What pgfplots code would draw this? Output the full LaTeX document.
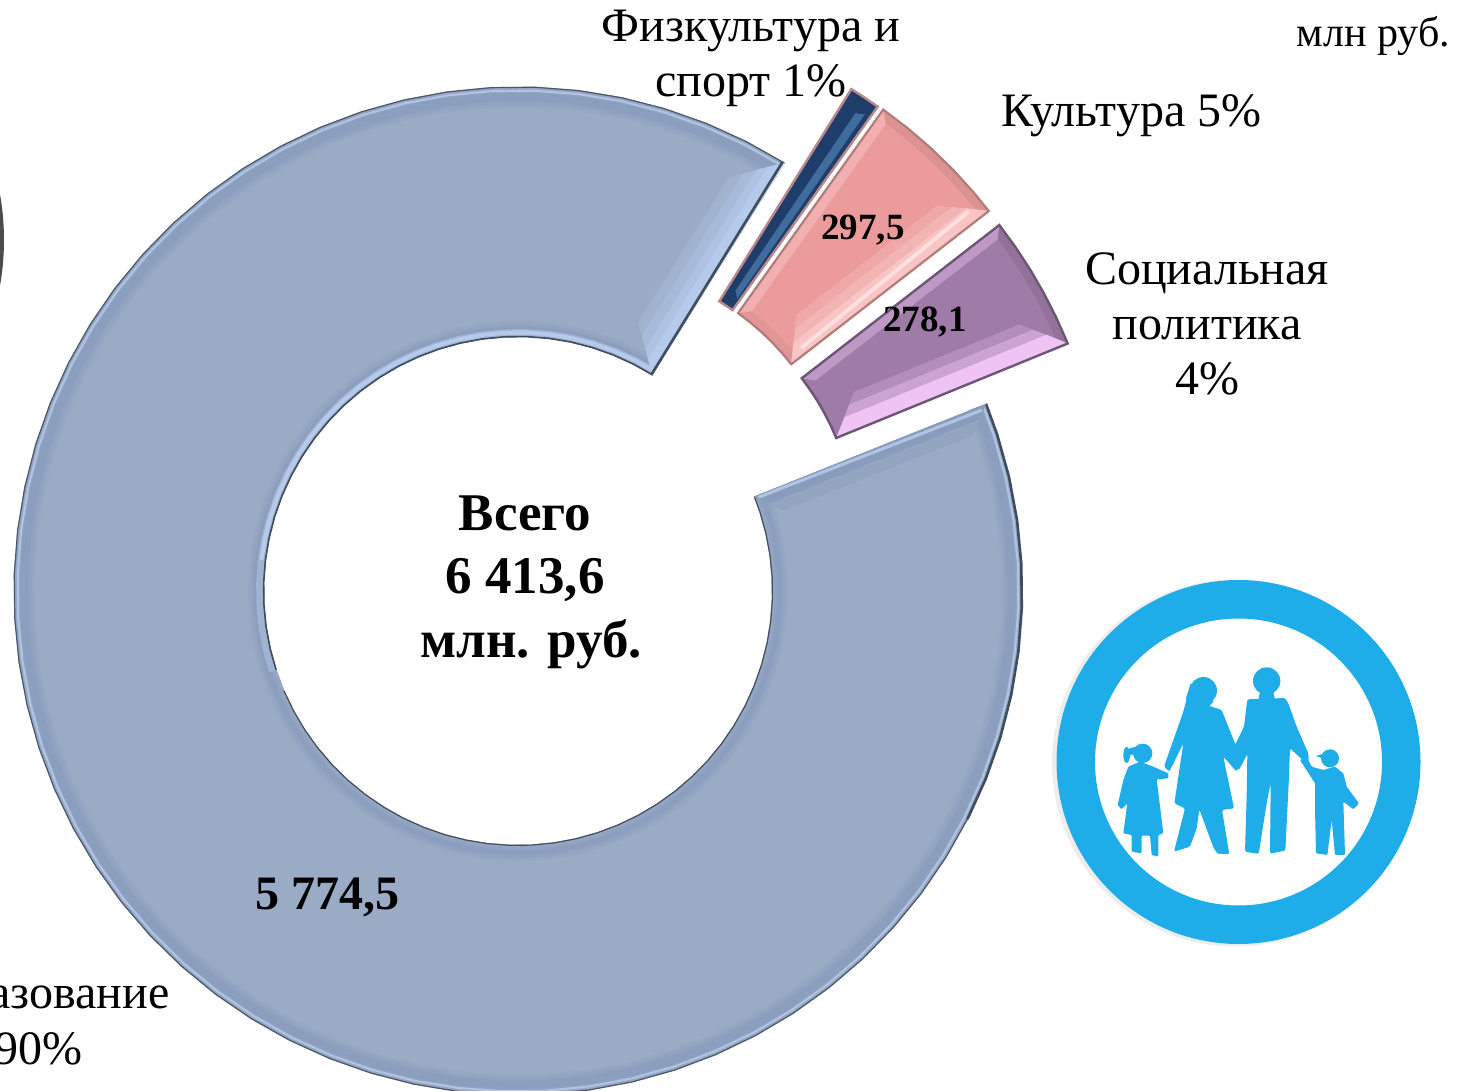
\documentclass[border=0pt]{standalone}
\usepackage{fontspec}
\setmainfont{Liberation Serif}
\usepackage{pgfplots}
\usepackage{pgfplotstable}
\pgfplotsset{compat=1.18}
\definecolor{mainbase}{HTML}{9AABC6}
\definecolor{mainband}{HTML}{8A9CBB}
\definecolor{mainlight}{HTML}{B6CAEB}
\definecolor{maindark}{HTML}{3F4E5E}
\definecolor{cult}{HTML}{EB9B9B}
\definecolor{cultedge}{HTML}{B07C7C}
\definecolor{cultlight}{HTML}{F8C4C4}
\definecolor{cultwhite}{HTML}{FFE0E0}
\definecolor{socl}{HTML}{9F7CA8}
\definecolor{socledge}{HTML}{6C5674}
\definecolor{sociallight}{HTML}{EFC4F4}
\definecolor{navy}{HTML}{1E3D68}
\definecolor{navylight}{HTML}{3F6B9D}
\definecolor{navyedge}{HTML}{B8898C}
\definecolor{iconblue}{HTML}{1FADE9}
\pgfplotsset{M/.style={data cs=polar,xshift=-1pt},
  C/.style={data cs=polar,xshift=71.5pt,yshift=71pt},
  S/.style={data cs=polar,xshift=82pt,yshift=57pt},
  F/.style={data cs=polar,xshift=66pt,yshift=74pt}}
\pgfplotstableread{
a o3 o1 o2 i1 i2 i3
58.1 504 500.5 494 262 258.5 254.5
63.1 504 500.5 494 262 258.5 254.5
68.1 504 500.5 494 262 258.5 254.5
73.1 504 500.5 494 262 258.5 254.5
78.1 504 500.5 494 262 258.5 254.5
83.1 504 500.5 494 262 258.5 254.5
88.1 504 500.5 494 262 258.5 254.5
93.1 504 500.5 494 262 258.5 254.5
98.1 504 500.5 494 262 258.5 254.5
103.1 504 500.5 494 262 258.5 254.5
108.1 504 500.5 494 262 258.5 254.5
113.1 504 500.5 494 262 258.5 254.5
118.1 504 500.5 494 262 258.5 254.5
123.1 504 500.5 494 262 258.5 254.5
128.1 504 500.5 494 262 258.5 254.5
133.1 504 500.5 494 262 258.5 254.5
138.1 504 500.5 494 262 258.5 254.5
143.1 504 500.5 494 262 258.5 254.5
148.1 504 500.5 494 262 258.5 254.5
153.1 504 500.5 494 262 258.5 254.5
158.1 504 500.5 494 262 258.5 254.5
163.1 504 500.5 494 262 258.5 254.5
168.1 504 500.5 494 262 258.5 254.5
173.1 504 500.5 494 262 258.5 254.5
178.1 504 500.5 494 262 258.5 254.5
183.1 504 500.5 494 262 258.5 254.5
188.1 504 500.5 494 262 258.5 254.5
193.1 504 500.5 494 262 258.5 254.5
198.1 504 500.5 494 262 258.5 254.5
203.1 504 500.5 494 262 258.5 254.5
208.1 504 500.5 494 262 258.5 254.5
213.1 504 500.5 494 262 258.5 254.5
218.1 504 500.5 494 262 258.5 254.5
223.1 504 500.5 494 262 258.5 254.5
228.1 504 500.5 494 262 258.5 254.5
233.1 504 500.5 494 262 258.5 254.5
238.1 504 500.5 494 262 258.5 254.5
243.1 504 500.5 494 262 258.5 254.5
248.1 504 500.5 494 262 258.5 254.5
253.1 504 500.5 494 262 258.5 254.5
258.1 504 500.5 494 262 258.5 254.5
263.1 504 500.5 494 262 258.5 254.5
268.1 504 500.5 494 262 258.5 254.5
273.1 504 500.5 494 262 258.5 254.5
278.1 504 500.5 494 262 258.5 254.5
283.1 504 500.5 494 262 258.5 254.5
288.1 504 500.5 494 262 258.5 254.5
293.1 504 500.5 494 262 258.5 254.5
298.1 504 500.5 494 262 258.5 254.5
303.1 504 500.5 494 262 258.5 254.5
308.1 504 500.5 494 262 258.5 254.5
313.1 504 500.5 494 262 258.5 254.5
318.1 504 500.5 494 262 258.5 254.5
323.1 504 500.5 494 262 258.5 254.5
328.1 504 500.5 494 262 258.5 254.5
333.1 504 500.5 494 262 258.5 254.5
338.1 504 500.5 494 262 258.5 254.5
343.1 504 500.5 494 262 258.5 254.5
348.1 504 500.5 494 262 258.5 254.5
353.1 504 500.5 494 262 258.5 254.5
358.1 504 500.5 494 262 258.5 254.5
363.1 504 500.5 494 262 258.5 254.5
368.1 504 500.5 494 262 258.5 254.5
373.1 504 500.5 494 262 258.5 254.5
378.1 504 500.5 494 262 258.5 254.5
381.8 504 500.5 494 262 258.5 254.5
}\arcs
\begin{document}
\begin{tikzpicture}
\path[use as bounding box,clip] (0,0) rectangle (1463pt,1090pt);
% grey disc cut by the left edge
\fill[color=black!70] (-256pt,850pt) circle (260pt);
\begin{axis}[at={(0,0)},anchor=south west,scale only axis,width=1463pt,height=1090pt,
  xmin=-519,xmax=944,ymin=-499,ymax=591,hide axis,clip=true,no markers]
% main sector, 90 %
\addplot[M,fill=mainbase,draw=none] coordinates {
(58.1,504.5)(63.1,504.5)(68.1,504.5)(73.1,504.5)(78.1,504.5)(83.1,504.5)(88.1,504.5)(93.1,504.5)(98.1,504.5)(103.1,504.5)(108.1,504.5)(113.1,504.5)(118.1,504.5)(123.1,504.5)(128.1,504.5)(133.1,504.5)(138.1,504.5)(143.1,504.5)(148.1,504.5)(153.1,504.5)(158.1,504.5)(163.1,504.5)(168.1,504.5)(173.1,504.5)(178.1,504.5)(183.1,504.5)(188.1,504.5)(193.1,504.5)(198.1,504.5)(203.1,504.5)(208.1,504.5)(213.1,504.5)(218.1,504.5)(223.1,504.5)(228.1,504.5)(233.1,504.5)(238.1,504.5)(243.1,504.5)(248.1,504.5)(253.1,504.5)(258.1,504.5)(263.1,504.5)(268.1,504.5)(273.1,504.5)(278.1,504.5)(283.1,504.5)(288.1,504.5)(293.1,504.5)(298.1,504.5)(303.1,504.5)(308.1,504.5)(313.1,504.5)(318.1,504.5)(323.1,504.5)(328.1,504.5)(333.1,504.5)(338.1,504.5)(343.1,504.5)(348.1,504.5)(353.1,504.5)(358.1,504.5)(363.1,504.5)(368.1,504.5)(373.1,504.5)(378.1,504.5)(381.8,504.5)
(381.8,254)(378.1,254)(373.1,254)(368.1,254)(363.1,254)(358.1,254)(353.1,254)(348.1,254)(343.1,254)(338.1,254)(333.1,254)(328.1,254)(323.1,254)(318.1,254)(313.1,254)(308.1,254)(303.1,254)(298.1,254)(293.1,254)(288.1,254)(283.1,254)(278.1,254)(273.1,254)(268.1,254)(263.1,254)(258.1,254)(253.1,254)(248.1,254)(243.1,254)(238.1,254)(233.1,254)(228.1,254)(223.1,254)(218.1,254)(213.1,254)(208.1,254)(203.1,254)(198.1,254)(193.1,254)(188.1,254)(183.1,254)(178.1,254)(173.1,254)(168.1,254)(163.1,254)(158.1,254)(153.1,254)(148.1,254)(143.1,254)(138.1,254)(133.1,254)(128.1,254)(123.1,254)(118.1,254)(113.1,254)(108.1,254)(103.1,254)(98.1,254)(93.1,254)(88.1,254)(83.1,254)(78.1,254)(73.1,254)(68.1,254)(63.1,254)(58.1,254)
} -- cycle;
% soft bands along the arcs
\addplot[M,draw=mainband!25!mainbase,line width=20pt] table[x=a,y=o2] {\arcs};
\addplot[M,draw=mainband!55!mainbase,line width=14pt] table[x=a,y=o2] {\arcs};
\addplot[M,draw=mainband!85!mainbase,line width=8pt] table[x=a,y=o2] {\arcs};
\addplot[M,draw=mainband!25!mainbase,line width=16pt] table[x=a,y=i1] {\arcs};
\addplot[M,draw=mainband!55!mainbase,line width=10pt] table[x=a,y=i1] {\arcs};
\addplot[M,draw=mainband!85!mainbase,line width=5pt] table[x=a,y=i1] {\arcs};
\addplot[M,draw=mainlight!80!mainbase,line width=2pt] table[x=a,y=o1] {\arcs};
\addplot[M,draw=black!45!mainband,line width=1.2pt] table[x=a,y=o3] {\arcs};
\addplot[M,draw=maindark,line width=2.6pt,skip coords between index={0}{55}] table[x=a,y=o3] {\arcs};
\addplot[M,draw=mainlight!50!mainband,line width=7pt,skip coords between index={29}{66}] table[x=a,y=i2] {\arcs};
\addplot[M,draw=mainlight,line width=4pt,skip coords between index={24}{66}] table[x=a,y=i2] {\arcs};
\addplot[M,draw=maindark,line width=1.6pt,skip coords between index={29}{66}] table[x=a,y=i3] {\arcs};
\addplot[M,draw=black!50!mainband,line width=1.2pt,skip coords between index={0}{29}] table[x=a,y=i3] {\arcs};
% bevel of the upper end
\addplot[M,fill=mainlight!25!mainbase,draw=none] coordinates {(58.1,254)(58.1,504)(63.0,464)(65.9,294)} -- cycle;
\addplot[M,fill=mainlight!50!mainbase,draw=none] coordinates {(58.1,254)(58.1,504)(61.7,474)(64.15,284)} -- cycle;
\addplot[M,fill=mainlight!75!mainbase,draw=none] coordinates {(58.1,254)(58.1,504)(60.5,484)(62.3,274)} -- cycle;
\addplot[M,fill=mainlight,draw=none] coordinates {(58.1,254)(58.1,504)(59.5,492)(60.7,266)} -- cycle;
\addplot[M,draw=maindark,line width=2.6pt] coordinates {(58.35,254)(58.35,504)};
% bevel of the lower end
\addplot[M,fill=mainband!40!mainbase,draw=none] coordinates {(381.8,254)(381.8,504)(378.9,480)(376.85,278)} -- cycle;
\addplot[M,fill=mainband,draw=none] coordinates {(381.8,254)(381.8,504)(380.4,492)(379.2,266)} -- cycle;
\addplot[M,draw=mainlight!85!mainband,line width=3pt] coordinates {(381.3,258)(381.3,498)};
% culture, 297,5
\addplot[C,fill=cult,draw=none] coordinates {(54.5,254)(54.5,504)(51,504)(47.5,504)(44,504)(40.5,504)(37.8,504)(37.8,254)(40.5,254)(44,254)(47.5,254)(51,254)} -- cycle;
\addplot[C,draw=black!6!cult,line width=9pt] coordinates {(54.5,499)(51,499)(47.5,499)(44,499)(40.5,499)(37.8,499)};
\addplot[C,draw=black!4!cult,line width=9pt] coordinates {(54.5,259)(51,259)(47.5,259)(44,259)(40.5,259)(37.8,259)};
\addplot[C,fill=cultlight!30!cult,draw=none] coordinates {(37.8,254)(37.8,504)(42.2,468)(44.9,290)} -- cycle;
\addplot[C,fill=cultlight!60!cult,draw=none] coordinates {(37.8,254)(37.8,504)(40.9,478)(43.1,280)} -- cycle;
\addplot[C,fill=cultlight,draw=none] coordinates {(37.8,254)(37.8,504)(39.7,488)(41.2,270)} -- cycle;
\addplot[C,draw=cultwhite,line width=4pt] coordinates {(39.2,272)(39.2,488)};
\addplot[C,fill=cultlight!50!cult,draw=none] coordinates {(54.5,254)(54.5,504)(53.3,494)(52.3,264)} -- cycle;
\addplot[C,draw=cultedge,line width=2.2pt] coordinates {(54.5,254)(54.5,504)(51,504)(47.5,504)(44,504)(40.5,504)(37.8,504)(37.8,254)(40.5,254)(44,254)(47.5,254)(51,254)} -- cycle;
% social policy, 278,1
\addplot[S,fill=socl,draw=none] coordinates {(37.8,254)(37.8,504)(34.7,504)(31.6,504)(28.5,504)(25.4,504)(22.2,504)(22.2,254)(25.4,254)(28.5,254)(31.6,254)(34.7,254)} -- cycle;
\addplot[S,draw=black!8!socl,line width=9pt] coordinates {(37.8,499)(34.7,499)(31.6,499)(28.5,499)(25.4,499)(22.2,499)};
\addplot[S,fill=sociallight!25!socl,draw=none] coordinates {(22.2,254)(22.2,504)(26.6,468)(29.3,290)} -- cycle;
\addplot[S,fill=sociallight!55!socl,draw=none] coordinates {(22.2,254)(22.2,504)(25.3,478)(27.5,280)} -- cycle;
\addplot[S,fill=sociallight,draw=none] coordinates {(22.2,254)(22.2,504)(24.1,488)(25.6,270)} -- cycle;
\addplot[S,fill=sociallight!40!socl,draw=none] coordinates {(37.8,254)(37.8,504)(36.6,494)(35.6,264)} -- cycle;
\addplot[S,draw=socledge,line width=2.4pt] coordinates {(37.8,254)(37.8,504)(34.7,504)(31.6,504)(28.5,504)(25.4,504)(22.2,504)(22.2,254)(25.4,254)(28.5,254)(31.6,254)(34.7,254)} -- cycle;
% physical culture and sport, 63,5
\addplot[F,fill=navy,draw=none] coordinates {(58.1,254)(58.1,504)(56.3,504)(54.5,504)(54.5,254)(56.3,254)} -- cycle;
\addplot[F,fill=navylight,draw=none] coordinates {(56.4,272)(56.2,486)(55.2,490)(55.1,266)} -- cycle;
\addplot[F,draw=navyedge,line width=2.4pt] coordinates {(58.1,254)(58.1,504)(56.3,504)(54.5,504)(54.5,254)(56.3,254)} -- cycle;
% labels
\node[anchor=base,font=\fontsize{48}{55}\selectfont] at (axis cs:232,549) {Физкультура и};
\node[anchor=base,font=\fontsize{48}{55}\selectfont] at (axis cs:232,494) {спорт 1\%};
\node[anchor=base,font=\fontsize{48}{55}\selectfont] at (axis cs:612.5,464) {Культура 5\%};
\node[anchor=base,font=\fontsize{48}{55}\selectfont] at (axis cs:688,306) {Социальная};
\node[anchor=base,font=\fontsize{48}{55}\selectfont] at (axis cs:688,251) {политика};
\node[anchor=base,font=\fontsize{48}{55}\selectfont] at (axis cs:688,196) {4\%};
\node[anchor=base,font=\fontsize{42}{48}\selectfont] at (axis cs:854.5,544) {млн руб.};
\node[anchor=base,font=\fontsize{48}{55}\selectfont] at (axis cs:-481,-418) {Образование};
\node[anchor=base,font=\fontsize{48}{55}\selectfont] at (axis cs:-481,-473) {90\%};
\node[anchor=base,font=\fontsize{53}{64}\bfseries\selectfont] at (axis cs:6,60) {Всего};
\node[anchor=base,font=\fontsize{53}{64}\bfseries\selectfont] at (axis cs:6,-3) {6 413,6};
\node[anchor=base,font=\fontsize{53}{64}\bfseries\selectfont] at (axis cs:12,-67) {млн. руб.};
\node[anchor=base,font=\fontsize{48}{56}\bfseries\selectfont] at (axis cs:-192,-319) {5 774,5};
\node[anchor=base,font=\fontsize{37}{44}\bfseries\selectfont] at (axis cs:344,351) {297,5};
\node[anchor=base,font=\fontsize{37}{44}\bfseries\selectfont] at (axis cs:406,259) {278,1};
\end{axis}
% family icon
\fill[black!7] (1235.5pt,327pt) circle (183.5pt);
\fill[white] (1238.5pt,328pt) circle (182pt);
\fill[iconblue,even odd rule] (1238.5pt,328pt) circle (182pt) (1238.5pt,328pt) circle (143.5pt);
\begin{scope}[shift={(1040pt,520pt)},x=0.33333pt,y=-0.33333pt]
\fill[iconblue] (680,333) circle (41);
\fill[iconblue] (660,365)--(700,365)--(705,390)--(655,390)--cycle;
\fill[iconblue,rounded corners=1.5pt] (622,388)--(735,384)--(745,400)--(770,470)--(805,550)--(806,572)--(790,572)--(750,535)--(746,640)--(736,842)--(690,851)--(692,640)--(680,700)--(656,852)--(615,845)--(620,680)--(622,552)--(596,602)--(585,525)--(612,470)--cycle;
\fill[iconblue] (490,362) circle (41);
\fill[iconblue] (452,340)--(520,395)--(505,412)--(440,412)--(438,385)--cycle;
\fill[iconblue,rounded corners=1.5pt] (445,365)--(438,385)--(443,412)--(500,405)--(545,420)--(585,520)--(612,560)--(590,605)--(550,560)--(582,715)--(546,720)--(568,853)--(532,851)--(520,832)--(478,718)--(470,775)--(450,830)--(402,845)--(435,715)--(403,700)--(430,520)--(388,605)--(372,590)--(400,510)--(430,425)--cycle;
\fill[iconblue] (308,550) circle (29);
\fill[iconblue] (260,555) ellipse (10 and 24);
\fill[iconblue] (255,540)--(285,530)--(285,550)--(262,560)--cycle;
\fill[iconblue,rounded corners=1pt] (265,590)--(300,575)--(340,590)--(385,610)--(385,625)--(350,628)--(370,790)--(355,795)--(355,860)--(335,855)--(330,797)--(305,797)--(305,850)--(275,845)--(275,795)--(250,790)--(262,700)--(245,718)--(233,705)--(250,630)--cycle;
\fill[iconblue] (870,565) circle (27);
\fill[iconblue] (828,558)--(860,548)--(860,570)--cycle;
\fill[iconblue,rounded corners=1pt] (780,570)--(800,560)--(815,590)--(850,600)--(885,590)--(910,610)--(920,650)--(957,700)--(940,718)--(910,695)--(915,855)--(885,855)--(875,750)--(862,855)--(828,850)--(825,720)--(825,640)--cycle;
\end{scope}
\end{tikzpicture}
\end{document}
